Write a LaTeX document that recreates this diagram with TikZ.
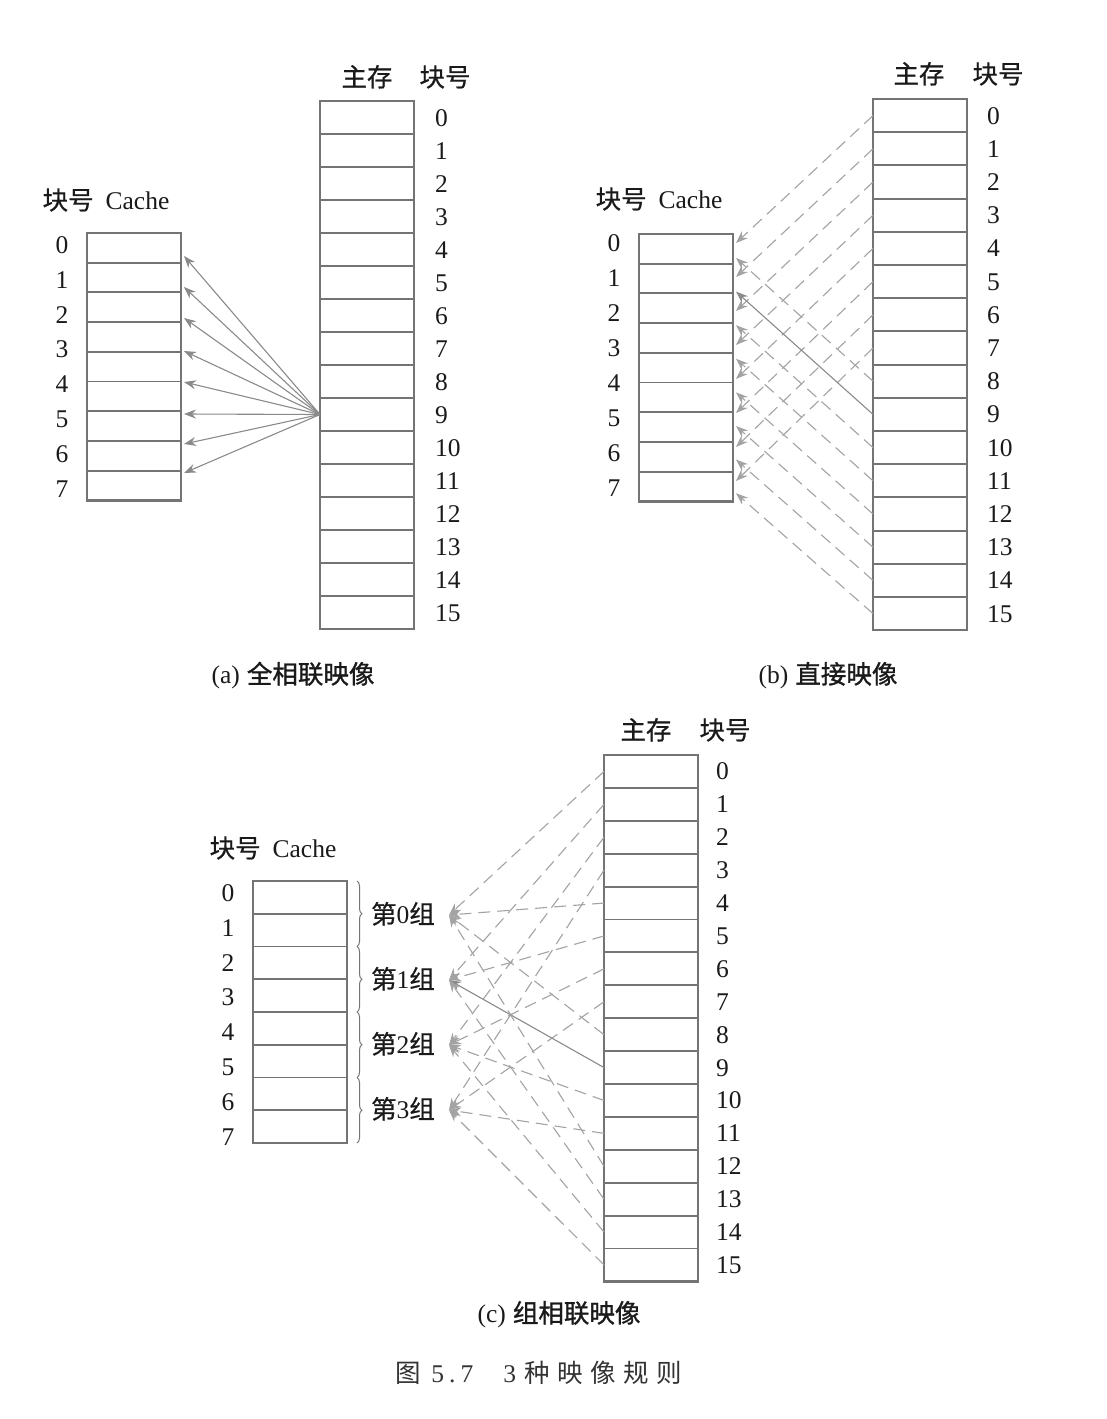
\documentclass[tikz,border=0pt]{standalone}
\usepackage{fontspec}
\setmainfont{Liberation Serif}
\newfontfamily\cjk[FakeBold=0.6]{Noto Sans CJK SC}
\newfontfamily\cjkb[FakeBold=1.2]{Noto Sans CJK SC}
\newfontfamily\cjkcap[LetterSpace=30]{Noto Sans CJK SC}
\usetikzlibrary{arrows.meta,decorations.pathreplacing}
\definecolor{boxc}{HTML}{747474}
\definecolor{linec}{HTML}{8A8A8A}
\definecolor{dashc}{HTML}{A3A3A3}
\definecolor{txtc}{HTML}{1A1A1A}
\begin{document}
\begin{tikzpicture}[x=1pt,y=-1pt,
  cell/.style={draw=boxc, line width=1.9pt, minimum width=94pt, inner sep=0pt, outer sep=0pt},
  outerbox/.style={draw=boxc, line width=2.4pt},
  txt/.style={text=txtc, inner sep=0pt, font=\fontsize{25.5}{25.5}\selectfont, text height=17pt, text depth=0pt},
  arr/.style={draw=linec, line width=1.1pt, -{Stealth[length=12pt,width=9pt,inset=4pt]}},
  darr/.style={arr, draw=dashc, dash pattern=on 12pt off 7pt},
  grp/.style={decorate, decoration={brace, amplitude=5pt}, draw=boxc, line width=1pt}
]
\fill[white] (0,0) rectangle (1107,1419);
\useasboundingbox (0,0) rectangle (1107,1419);

% ================= (a) =================
\node[txt] (ahm) at (367,78) {\cjk 主存};
\node[txt] (ahn) at (445,78) {\cjk 块号};
\foreach \j in {0,...,15}{
  \node[cell, minimum height=33pt] (am\j) at (367,{101+33*(\j+0.5)}) {};
  \node[txt, anchor=west] (aml\j) at (435,{101+33*(\j+0.5)}) {\j};
}
\draw[outerbox] (am0.north west) rectangle (am15.south east);
\node[txt] (ahc) at (106,201) {{\cjk 块号}\hspace{12pt}Cache};
\foreach \r in {0,...,8}{
  \node[cell, minimum height=29.7pt] (ac\r) at (134,{233+29.7*(\r+0.5)}) {};
}
\draw[outerbox] (ac0.north west) rectangle (ac8.south east);
\foreach \i in {0,...,7}{
  \node[txt] (acl\i) at (62,{245+34.8*\i}) {\i};
}
\foreach \i/\yy in {0/256,1/287,2/318,3/351,4/382,5/414,6/444,7/473}{
  \coordinate (aT\i) at (184,\yy);
  \draw[arr] (am9.west) -- (aT\i);
}
\node[txt] (capa) at (293,675) {(a)\hspace{7pt}{\cjkb 全相联映像}};

% ================= (b) =================
\node[txt] (bhm) at (919,75) {\cjk 主存};
\node[txt] (bhn) at (998,75) {\cjk 块号};
\foreach \j in {0,...,15}{
  \node[cell, minimum height=33.2pt] (bm\j) at (920,{99+33.2*(\j+0.5)}) {};
  \node[txt, anchor=west] (bml\j) at (987,{99+33.2*(\j+0.5)}) {\j};
}
\draw[outerbox] (bm0.north west) rectangle (bm15.south east);
\node[txt] (bhc) at (659,200) {{\cjk 块号}\hspace{12pt}Cache};
\foreach \r in {0,...,8}{
  \node[cell, minimum height=29.7pt] (bc\r) at (686,{234+29.7*(\r+0.5)}) {};
}
\draw[outerbox] (bc0.north west) rectangle (bc8.south east);
\foreach \i in {0,...,7}{
  \node[txt] (bcl\i) at (614,{243+35*\i}) {\i};
}
\foreach \j in {0,...,7}{
  \coordinate (bT\j) at (736,{243+34*\j});
}
\foreach \j in {8,...,15}{
  \coordinate (bT\j) at (736,{258+33.6*(\j-8)});
}
\foreach \j in {0,...,15}{
  \ifnum\j=9
    \draw[arr] (bm\j.west) -- (bT\j);
  \else
    \draw[darr] (bm\j.west) -- (bT\j);
  \fi
}
\node[txt] (capb) at (828,675) {(b)\hspace{7pt}{\cjkb 直接映像}};

% ================= (c) =================
\node[txt] (chm) at (646,731) {\cjk 主存};
\node[txt] (chn) at (725,731) {\cjk 块号};
\foreach \j in {0,...,15}{
  \node[cell, minimum height=32.9pt] (cm\j) at (651,{755+32.9*(\j+0.5)}) {};
  \node[txt, anchor=west] (cml\j) at (716,{755+32.9*(\j+0.5)}) {\j};
}
\draw[outerbox] (cm0.north west) rectangle (cm15.south east);
\node[txt] (chc) at (273,849) {{\cjk 块号}\hspace{12pt}Cache};
\foreach \r in {0,...,7}{
  \node[cell, minimum height=32.75pt] (cc\r) at (300,{881+32.75*(\r+0.5)}) {};
}
\draw[outerbox] (cc0.north west) rectangle (cc7.south east);
\foreach \i in {0,...,7}{
  \node[txt] (ccl\i) at (228,{893+34.8*\i}) {\i};
}
\foreach \k in {0,...,3}{
  \draw[grp] (357,{881+65.5*\k}) -- (357,{881+65.5*(\k+1)});
  \node[txt] (cg\k) at (403,{915+65*\k}) {{\cjk 第}\k{\cjk 组}};
  \coordinate (cT\k) at (449,{915+65*\k});
}
\foreach \j in {0,...,15}{
  \pgfmathtruncatemacro\s{mod(\j,4)}
  \ifnum\j=9
    \draw[arr] (cm\j.west) -- (cT\s);
  \else
    \draw[darr] (cm\j.west) -- (cT\s);
  \fi
}
\node[txt] (capc) at (559,1314) {(c)\hspace{7pt}{\cjkb 组相联映像}};

% ================= figure caption =================
\node[txt, text=black!80] (fig) at (539,1374) {{\cjkcap 图}\hspace{10pt}5\hspace{5pt}.\hspace{5pt}7\hspace{30pt}3\hspace{8pt}{\cjkcap 种映像规则}};
\end{tikzpicture}
\end{document}
